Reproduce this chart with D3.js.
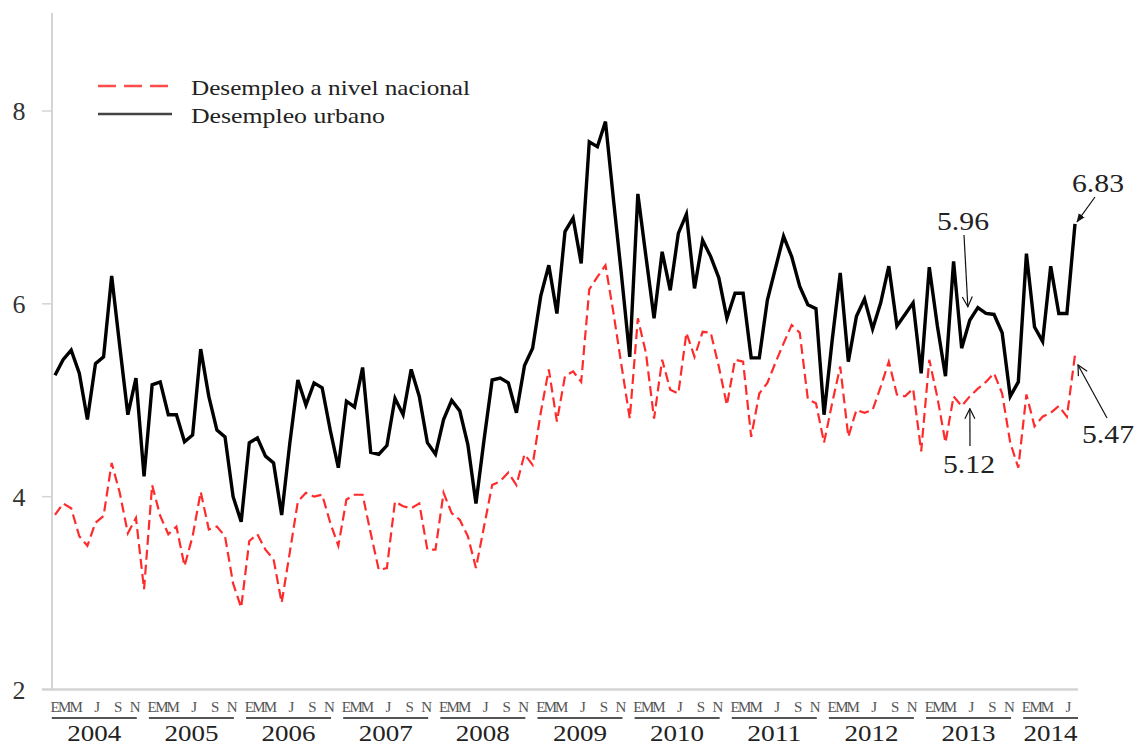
<!DOCTYPE html>
<html>
<head>
<meta charset="utf-8">
<script src="https://cdn.jsdelivr.net/npm/d3@7"></script>
<style>
  html, body { margin: 0; padding: 0; background: #fff; }
  svg { display: block; }
  text { font-family: "Liberation Serif", "DejaVu Serif", serif; }
</style>
</head>
<body>
<svg id="chart" width="1138" height="747"></svg>
<script>
// ---- Data (monthly, Jan 2004 – Jul 2014) ----
const years = [2004, 2005, 2006, 2007, 2008, 2009, 2010, 2011, 2012, 2013, 2014];
const monthLabels = ["E", "M", "M", "J", "S", "N"];
const yTicks = [2, 4, 6, 8];
const seriesNames = ["Desempleo a nivel nacional", "Desempleo urbano"];

const urbano = [
  5.26, 5.42, 5.52, 5.28, 4.80, 5.38, 5.45, 6.29, 5.56, 4.85, 5.23, 4.21,
  5.16, 5.19, 4.85, 4.85, 4.57, 4.64, 5.53, 5.04, 4.69, 4.62, 4.00, 3.74,
  4.56, 4.61, 4.42, 4.35, 3.81, 4.55, 5.21, 4.95, 5.18, 5.13, 4.69, 4.30,
  4.99, 4.93, 5.34, 4.46, 4.44, 4.53, 5.02, 4.85, 5.32, 5.04, 4.56, 4.44,
  4.80, 5.00, 4.89, 4.54, 3.93, 4.59, 5.21, 5.23, 5.18, 4.87, 5.36, 5.54,
  6.08, 6.40, 5.90, 6.75, 6.89, 6.42, 7.68, 7.63, 7.89, 7.07, 6.28, 5.45,
  7.14, 6.49, 5.85, 6.54, 6.14, 6.73, 6.93, 6.16, 6.66, 6.49, 6.27, 5.85,
  6.11, 6.11, 5.44, 5.44, 6.04, 6.37, 6.70, 6.49, 6.18, 5.99, 5.95, 4.85,
  5.62, 6.32, 5.40, 5.87, 6.05, 5.74, 6.01, 6.39, 5.77, 5.89, 6.01, 5.28,
  6.38, 5.77, 5.25, 6.44, 5.54, 5.83, 5.96, 5.90, 5.89, 5.70, 5.04, 5.19,
  6.52, 5.76, 5.61, 6.39, 5.90, 5.90, 6.83
];

const nacional = [
  3.81, 3.93, 3.88, 3.59, 3.49, 3.73, 3.80, 4.35, 4.04, 3.62, 3.78, 3.04,
  4.12, 3.80, 3.61, 3.69, 3.28, 3.59, 4.05, 3.66, 3.69, 3.59, 3.10, 2.85,
  3.54, 3.61, 3.45, 3.35, 2.90, 3.42, 3.95, 4.04, 4.00, 4.02, 3.73, 3.49,
  3.97, 4.02, 4.02, 3.62, 3.24, 3.26, 3.95, 3.90, 3.88, 3.93, 3.45, 3.45,
  4.04, 3.83, 3.76, 3.59, 3.26, 3.69, 4.12, 4.16, 4.25, 4.12, 4.44, 4.33,
  4.87, 5.32, 4.78, 5.25, 5.30, 5.19, 6.15, 6.28, 6.40, 5.90, 5.35, 4.81,
  5.85, 5.49, 4.81, 5.42, 5.11, 5.07, 5.70, 5.45, 5.71, 5.70, 5.35, 4.95,
  5.42, 5.40, 4.62, 5.07, 5.18, 5.39, 5.59, 5.78, 5.70, 5.01, 4.97, 4.56,
  4.97, 5.35, 4.62, 4.90, 4.87, 4.90, 5.14, 5.40, 5.06, 5.04, 5.12, 4.47,
  5.42, 5.03, 4.56, 5.04, 4.94, 5.04, 5.12, 5.19, 5.28, 5.07, 4.56, 4.30,
  5.06, 4.73, 4.83, 4.87, 4.94, 4.83, 5.47
];

const annotations = [
  { label: "6.83", series: "urbano", index: 126 },
  { label: "5.96", series: "urbano", index: 114 },
  { label: "5.12", series: "nacional", index: 114 },
  { label: "5.47", series: "nacional", index: 126 }
];

// ---- Layout ----
const svg = d3.select("#chart");
const n = urbano.length;
const x = d3.scaleLinear().domain([0, 126]).range([55, 1075]);
const y = d3.scaleLinear().domain([2, 8]).range([689.5, 111]);
const axisLeftX = 52;
const axisColor = "#d4d4d4";

// Y axis
svg.append("line")
  .attr("x1", axisLeftX).attr("x2", axisLeftX)
  .attr("y1", 13).attr("y2", y(2))
  .attr("stroke", axisColor).attr("stroke-width", 2);
svg.append("line")
  .attr("x1", 42).attr("x2", x(126) + 3)
  .attr("y1", y(2)).attr("y2", y(2))
  .attr("stroke", axisColor).attr("stroke-width", 2.5);

const yAxis = svg.append("g");
yTicks.forEach(t => {
  yAxis.append("line")
    .attr("x1", 42).attr("x2", axisLeftX)
    .attr("y1", y(t)).attr("y2", y(t))
    .attr("stroke", axisColor).attr("stroke-width", 1.5);
  yAxis.append("text")
    .attr("x", 19).attr("y", y(t) + 9)
    .attr("text-anchor", "middle")
    .attr("font-size", 26)
    .attr("fill", "#333")
    .text(t);
});

// X axis month letters, underlines and years
const letterOffsets = [0, 1.2, 2.6, 5.2, 7.8, 9.9];
const xAxis = svg.append("g");
years.forEach((yr, k) => {
  const start = k * 12;
  const last = Math.min(start + 11, n - 1);
  monthLabels.forEach((m, j) => {
    const pos = start + letterOffsets[j];
    if (pos > n - 1 + 0.2) return;
    xAxis.append("text")
      .attr("x", x(pos)).attr("y", 712)
      .attr("text-anchor", "middle")
      .attr("font-size", 15)
      .attr("fill", "#555")
      .text(m);
  });
  const ulStart = x(start - 0.4);
  const ulEnd = (last < start + 11) ? x(last) + 3 : x(start + 10.1);
  xAxis.append("line")
    .attr("x1", ulStart).attr("x2", ulEnd)
    .attr("y1", 718).attr("y2", 718)
    .attr("stroke", "#555").attr("stroke-width", 2);
  xAxis.append("text")
    .attr("x", (ulStart + ulEnd) / 2 - 27).attr("y", 741)
    .attr("font-size", 23)
    .attr("fill", "#222")
    .attr("textLength", 54)
    .attr("lengthAdjust", "spacingAndGlyphs")
    .text(yr);
});

// Lines
const lineGen = d3.line().x((d, i) => x(i)).y(d => y(d));
svg.append("path")
  .datum(nacional)
  .attr("d", lineGen)
  .attr("fill", "none")
  .attr("stroke", "#ff2b2b")
  .attr("stroke-width", 2.2)
  .attr("stroke-dasharray", "10,5");
svg.append("path")
  .datum(urbano)
  .attr("d", lineGen)
  .attr("fill", "none")
  .attr("stroke", "#000")
  .attr("stroke-width", 3.4);

// Legend
const legend = svg.append("g");
legend.append("line")
  .attr("x1", 98).attr("x2", 172).attr("y1", 86).attr("y2", 86)
  .attr("stroke", "#ff4d4d").attr("stroke-width", 2.5)
  .attr("stroke-dasharray", "18,8");
legend.append("line")
  .attr("x1", 98).attr("x2", 172).attr("y1", 114).attr("y2", 114)
  .attr("stroke", "#444").attr("stroke-width", 2.5);
legend.append("text").attr("x", 191).attr("y", 95)
  .attr("font-size", 21).attr("fill", "#222")
  .attr("textLength", 279).attr("lengthAdjust", "spacingAndGlyphs")
  .text(seriesNames[0]);
legend.append("text").attr("x", 191).attr("y", 123)
  .attr("font-size", 21).attr("fill", "#222")
  .attr("textLength", 194).attr("lengthAdjust", "spacingAndGlyphs")
  .text(seriesNames[1]);

// Annotations
const defs = svg.append("defs");
defs.append("marker").attr("id", "arrowFill")
  .attr("viewBox", "0 0 10 10").attr("refX", 9).attr("refY", 5)
  .attr("markerWidth", 9).attr("markerHeight", 9).attr("markerUnits", "userSpaceOnUse")
  .attr("orient", "auto")
  .append("path").attr("d", "M0,1 L10,5 L0,9 Z").attr("fill", "#111");
defs.append("marker").attr("id", "arrowOpen")
  .attr("viewBox", "0 0 12 12").attr("refX", 11).attr("refY", 6)
  .attr("markerWidth", 12).attr("markerHeight", 12).attr("markerUnits", "userSpaceOnUse")
  .attr("orient", "auto")
  .append("path").attr("d", "M1,1 L11,6 L1,11").attr("fill", "none")
  .attr("stroke", "#111").attr("stroke-width", 1.2);

const seriesMap = { urbano, nacional };
const annLayout = {
  "6.83": { tx: 1072, ty: 192, from: [1095, 197], to: [2, -2], marker: "arrowFill" },
  "5.96": { tx: 937, ty: 230, from: [964, 235], to: [-10, -1], marker: "arrowOpen" },
  "5.12": { tx: 943, ty: 473, from: [970, 446], to: [-8, 20], marker: "arrowOpen" },
  "5.47": { tx: 1082, ty: 443, from: [1107, 418], to: [3, 10], marker: "arrowOpen" }
};
const annG = svg.append("g");
annotations.forEach(a => {
  const L = annLayout[a.label];
  const v = seriesMap[a.series][a.index];
  const px = x(a.index) + L.to[0];
  const py = y(v) + L.to[1];
  annG.append("line")
    .attr("x1", L.from[0]).attr("y1", L.from[1])
    .attr("x2", px).attr("y2", py)
    .attr("stroke", "#111").attr("stroke-width", 1.2)
    .attr("marker-end", `url(#${L.marker})`);
  annG.append("text")
    .attr("x", L.tx).attr("y", L.ty)
    .attr("font-size", 26)
    .attr("fill", "#222")
    .attr("textLength", 52)
    .attr("lengthAdjust", "spacingAndGlyphs")
    .text(a.label);
});
</script>
</body>
</html>
